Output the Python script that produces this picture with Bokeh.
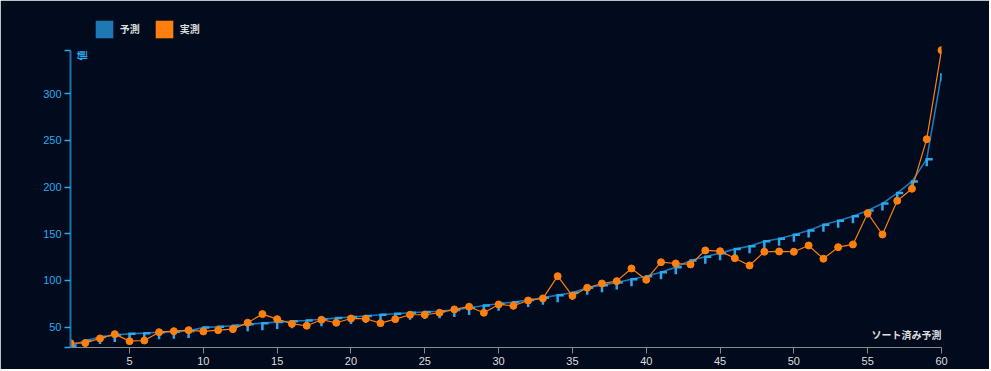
import math
from bokeh.plotting import figure
from bokeh.models import (Range1d, FixedTicker, CustomJSTickFormatter, Label,
                          Legend, LegendItem)
from bokeh.embed import file_html
from bokeh.resources import INLINE

# ---- data ----
idx = list(range(1, 61))
predicted = [30.0, 35.5, 39.5, 41.5, 42.9, 43.6, 44.5, 45.2, 46.0, 49.5,
             50.5, 51.5, 53.0, 54.3, 55.4, 56.3, 57.2, 58.5, 59.7, 60.8,
             62.0, 63.3, 64.3, 65.4, 66.2, 67.0, 68.5, 70.5, 73.2, 75.0,
             76.8, 79.0, 81.5, 84.3, 86.8, 92.2, 95.0, 97.9, 101.4, 104.6,
             108.9, 114.3, 121.5, 125.4, 129.3, 133.6, 136.8, 142.1, 144.7, 149.0,
             153.6, 159.7, 164.0, 168.9, 175.0, 182.5, 193.6, 206.1, 230.0, 321.0]
actual = [32.9, 33.0, 37.9, 42.5, 35.0, 35.7, 44.6, 45.7, 46.8, 45.4,
          46.8, 47.9, 54.7, 64.0, 58.6, 53.6, 51.5, 57.9, 54.7, 59.3,
          59.0, 54.3, 58.6, 63.3, 63.3, 65.4, 69.0, 71.9, 65.4, 74.3,
          72.9, 78.6, 80.8, 104.6, 83.6, 92.2, 96.8, 99.3, 112.9, 100.8,
          119.6, 118.2, 117.2, 132.2, 131.4, 123.9, 116.1, 130.8, 131.1, 130.8,
          137.5, 123.3, 135.7, 138.6, 172.1, 149.3, 185.4, 198.3, 251.4, 346.8]
x_ticks = [5, 10, 15, 20, 25, 30, 35, 40, 45, 50, 55, 60]
y_ticks = [50, 100, 150, 200, 250, 300]
legend_labels = ["予測", "実測"]
x_label = "ソート済み予測"
y_label = "値"

Y_MIN, Y_MAX = 28.2, 346.4          # y-axis domain
PX_PER_UNIT = 297.0 / (Y_MAX - Y_MIN)
Y_TOP = Y_MAX + 40.0 / PX_PER_UNIT  # extra room above the axis for the legend
BG = "#010b1d"
BLUE = "#1f77b4"
LIGHT_BLUE = "#2ba9ec"
ORANGE = "#ff7f0e"
JP = "Noto Sans CJK JP"
NAN = float("nan")

p = figure(width=989, height=369, x_range=Range1d(1, 60), y_range=Range1d(Y_MIN, Y_TOP),
           output_backend="svg", toolbar_location=None,
           outline_line_color=BG, outline_line_alpha=1.0,
           background_fill_color=BG, border_fill_color=BG,
           min_border_left=70, min_border_right=48, min_border_top=10, min_border_bottom=22)
p.xgrid.visible = False
p.ygrid.visible = False

# x axis
xa = p.xaxis[0]
xa.ticker = FixedTicker(ticks=x_ticks)
xa.axis_line_color = "#8a8a8a"
xa.major_tick_line_color = "#8a8a8a"
xa.major_tick_out = 6
xa.major_tick_in = 0
xa.minor_tick_line_color = None
xa.major_label_text_color = "#dddddd"
xa.major_label_text_font = "Liberation Sans"
xa.major_label_text_font_size = "11px"
xa.major_label_standoff = 3

# y axis (line limited to the data domain)
ya = p.yaxis[0]
ya.bounds = (Y_MIN, Y_MAX)
ya.ticker = FixedTicker(ticks=[Y_MIN] + y_ticks + [Y_MAX])
ya.formatter = CustomJSTickFormatter(code="return (tick < 40 || tick > 320) ? '' : tick.toFixed(0);")
ya.axis_line_color = "#1f6fa8"
ya.axis_line_width = 2
ya.major_tick_line_color = LIGHT_BLUE
ya.major_tick_line_width = 1.5
ya.major_tick_out = 6
ya.major_tick_in = 0
ya.minor_tick_line_color = None
ya.major_label_text_color = LIGHT_BLUE
ya.major_label_text_font = "Liberation Sans"
ya.major_label_text_font_size = "11px"
ya.major_label_standoff = 3

# predicted line
p.line(idx, predicted, line_color=BLUE, line_width=1.6)

# corner markers for predicted values
xs_per_px = 59 / 871.0
ys_per_px = 1.0 / PX_PER_UNIT
p.segment(x0=[x - 1.2 * xs_per_px for x in idx], y0=predicted,
          x1=[x + 6 * xs_per_px for x in idx], y1=predicted,
          line_color=LIGHT_BLUE, line_width=2.5)
p.segment(x0=idx, y0=predicted, x1=idx, y1=[v - 7 * ys_per_px for v in predicted],
          line_color=LIGHT_BLUE, line_width=2.5)

# actual line + dots
p.line(idx, actual, line_color=ORANGE, line_width=1.2)
p.scatter(idx, actual, size=7, fill_color=ORANGE, line_color=ORANGE)

# legend with square swatches (invisible NaN quads only serve as legend glyphs)
r_pred = p.quad(left=[NAN], right=[NAN], top=[NAN], bottom=[NAN], fill_color=BLUE, line_color=None)
r_act = p.quad(left=[NAN], right=[NAN], top=[NAN], bottom=[NAN], fill_color=ORANGE, line_color=None)
legend = Legend(items=[LegendItem(label=legend_labels[0], renderers=[r_pred]),
                       LegendItem(label=legend_labels[1], renderers=[r_act])],
                orientation="horizontal", location=(22.8, 307.2),
                glyph_width=22, glyph_height=22, label_standoff=5, spacing=13,
                padding=0, margin=0, border_line_color=None, background_fill_alpha=0,
                label_text_font=JP, label_text_font_size="10px", label_text_font_style="bold",
                label_text_color="#dddddd")
p.add_layout(legend, "center")

# axis labels as annotations
p.add_layout(Label(x=60, y=Y_MIN, y_offset=6, text=x_label, text_align="right",
                   text_baseline="bottom", text_font=JP, text_font_size="10px",
                   text_font_style="bold", text_color="#dddddd"))
p.add_layout(Label(x=1, y=Y_MAX, x_offset=3, angle=math.pi / 2, text=y_label,
                   text_align="right", text_baseline="top", text_font=JP,
                   text_font_size="10px", text_font_style="bold", text_color=LIGHT_BLUE))

open("out.html", "w").write(file_html(p, INLINE))
